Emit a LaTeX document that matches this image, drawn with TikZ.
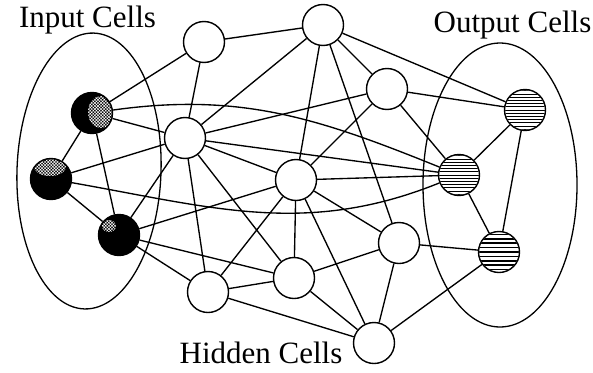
\documentclass[tikz,border=0pt]{standalone}
\usepackage{fontspec}
\setmainfont{Liberation Serif}
\usetikzlibrary{patterns.meta,backgrounds}
\newcommand\cellstripes[3]{%
  \begin{scope}
    \clip (#1.center) circle (19.8);
    \foreach \k in {-7,...,7}
      \draw[line width=#3] ([shift={(-22,\k*#2)}]#1.center) -- ++(44,0);
  \end{scope}}
\newcommand\cellhatch[5]{%
  \begin{scope}
    \clip (#1.center) circle (19.6);
    \fill[pattern={Hatch[angle=45,distance=2.2pt,line width=0.5pt]},pattern color=white]
      ([shift={(#2,#3)}]#1.center) ellipse (#4 and #5);
  \end{scope}}
\begin{document}
\begin{tikzpicture}[x=1pt,y=1pt,
  cell/.style={circle,draw,line width=1.4pt,minimum size=41pt,inner sep=0pt,fill=white},
  incell/.style={cell,fill=black},
  conn/.style={line width=1.35pt},
  region/.style={line width=1.3pt},
  lab/.style={font=\fontsize{31}{34}\selectfont,anchor=base,inner sep=0pt}]
\useasboundingbox (0,0) rectangle (593,-372);

% input cells
\node[incell] (I1) at (92,-113) {};
\node[incell] (I2) at (51,-179) {};
\node[incell] (I3) at (119,-235) {};
% hidden cells
\node[cell] (H1) at (204,-42) {};
\node[cell] (H2) at (323,-25) {};
\node[cell] (H3) at (185,-138) {};
\node[cell] (H4) at (387,-89) {};
\node[cell] (H5) at (296,-180) {};
\node[cell] (H6) at (399,-243) {};
\node[cell] (H7) at (208,-292) {};
\node[cell] (H8) at (294,-278) {};
\node[cell] (H9) at (374,-343) {};
% output cells
\node[cell] (O1) at (525,-110) {};
\node[cell] (O2) at (459,-175) {};
\node[cell] (O3) at (499,-252) {};

\cellhatch{I1}{9}{1}{13}{16}
\cellhatch{I2}{-1}{12}{16}{9}
\cellhatch{I3}{-10}{9}{7}{6}
\cellstripes{O1}{3.2}{0.9pt}
\cellstripes{O2}{3.2}{0.9pt}
\cellstripes{O3}{4.4}{1.6pt}

% labels
\node[lab] (tin) at (87.5,-27) {Input Cells};
\node[lab] (tout) at (512.5,-32) {Output Cells};
\node[lab] (thid) at (261,-363) {Hidden Cells};

\begin{scope}[on background layer]
  \draw[region,rotate around={-2:(89,-171)}] (89,-171) ellipse (72 and 138);
  \draw[region] (500,-185) ellipse (77 and 142);
  \draw[conn] (I1)--(H1) (I1)--(I2) (I1)--(I3) (I1)--(H3)
    (I2)--(I3) (I2)--(H3)
    (I3)--(H3) (I3)--(H5) (I3)--(H7) (I3)--(H8)
    (H1)--(H2) (H1)--(H3)
    (H2)--(H3) (H2)--(H5) (H2)--(H6) (H2)--(H4) (H2)--(O1)
    (H3)--(H4) (H3)--(O2) (H3)--(H5) (H3)--(H8) (H3)--(H7)
    (H4)--(O1) (H4)--(O2) (H4)--(H5)
    (H5)--(O2) (H5)--(H7) (H5)--(H8) (H5)--(H9) (H5)--(H6)
    (H6)--(H8) (H6)--(H9) (H6)--(O3)
    (H7)--(H8) (H7)--(H9)
    (H8)--(H9) (H9)--(O3)
    (O1)--(O2) (O1)--(O3) (O2)--(O3);
  \draw[conn] (I1) to[out=8,in=158] (O2);
  \draw[conn] (I2) to[out=-10,in=202] (O2);
\end{scope}
\end{tikzpicture}
\end{document}
